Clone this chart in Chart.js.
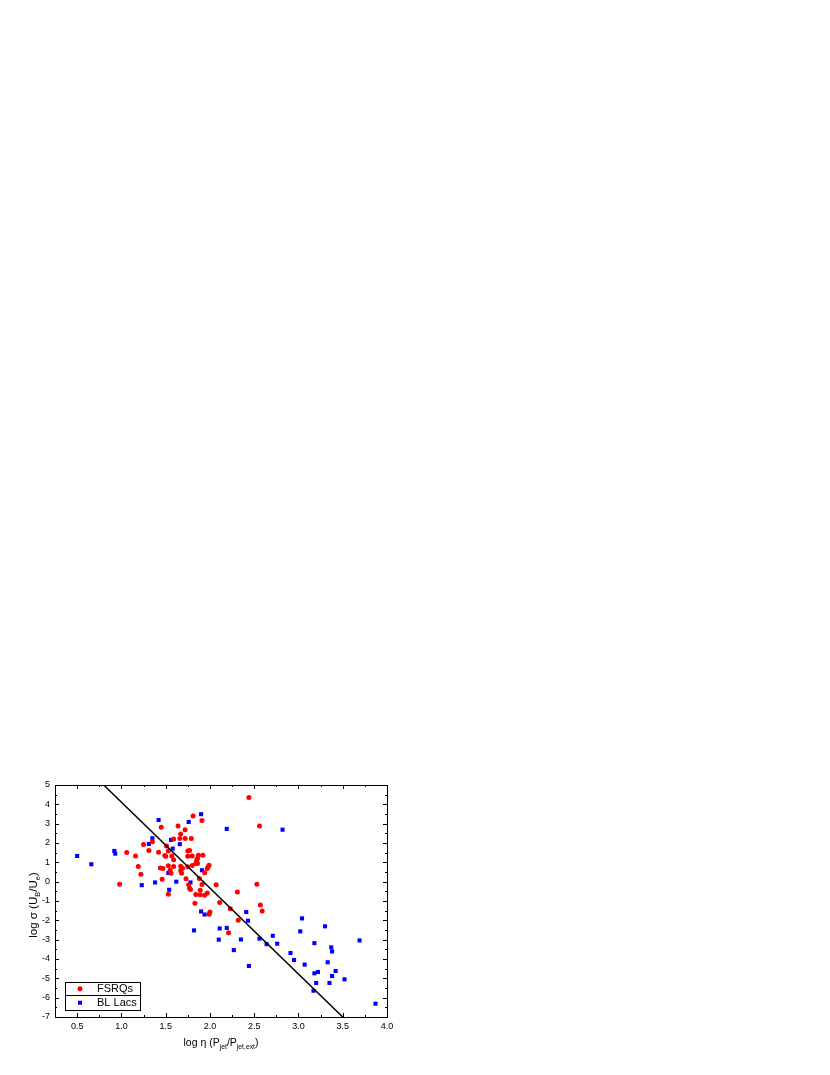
<!DOCTYPE html>
<html lang="en">
<head>
<meta charset="utf-8">
<title>log sigma vs log eta</title>
<script src="https://cdn.jsdelivr.net/npm/chart.js@4"></script>
<style>
  body { margin: 0; background: #fff; }
  canvas { display: block; }
</style>
</head>
<body>
<canvas id="sigmaChart" width="830" height="1075"></canvas>

<script>
// FSRQs (red circles)
var fsrqX = [2.44, 1.81, 1.91, 1.64, 2.56, 1.45, 1.72, 1.67, 1.59, 1.66, 1.72, 1.79, 1.25, 1.35, 1.51,
             1.06, 1.31, 1.42, 1.53, 1.49, 1.50, 1.57, 1.59, 1.16, 1.75, 1.77, 1.75, 1.80, 1.87, 1.92,
             1.86, 1.85, 1.84, 1.86, 1.19, 1.44, 1.47, 1.53, 1.59, 1.67, 1.69, 1.75, 1.80, 1.97, 1.99,
             1.98, 1.22, 1.55, 1.56, 1.67, 1.68, 1.46, 1.73, 1.88, 1.94, 0.98, 1.76, 1.91, 2.07, 2.53,
             1.53, 1.77, 1.78, 1.84, 1.89, 1.89, 1.94, 1.97, 2.31, 1.83, 2.11, 2.57, 2.59, 2.23, 2.00,
             1.99, 2.32, 2.21];
var fsrqY = [4.35, 3.40, 3.16, 2.88, 2.88, 2.81, 2.68, 2.47, 2.21, 2.23, 2.23, 2.23, 1.92, 2.06, 1.85,
             1.51, 1.61, 1.52, 1.59, 1.35, 1.32, 1.33, 1.14, 1.33, 1.59, 1.61, 1.32, 1.33, 1.37, 1.37,
             1.21, 1.11, 0.94, 0.94, 0.78, 0.71, 0.68, 0.82, 0.78, 0.80, 0.70, 0.77, 0.83, 0.68, 0.85,
             0.77, 0.39, 0.59, 0.44, 0.58, 0.43, 0.13, 0.15, 0.16, 0.46, -0.13, -0.16, -0.15, -0.16, -0.13,
             -0.65, -0.34, -0.40, -0.66, -0.44, -0.68, -0.70, -0.58, -0.54, -1.11, -1.08, -1.21, -1.52, -1.40, -1.57,
             -1.68, -1.99, -2.64];

// BL Lacs (blue squares)
var bllacX = [0.50, 0.66, 0.92, 0.93, 1.42, 1.35, 1.31, 1.76, 1.90, 1.56, 1.66, 1.58, 2.19, 2.82, 1.23,
              1.38, 1.62, 1.78, 1.91, 1.54, 1.53, 1.90, 1.94, 1.82, 2.11, 2.10, 2.19, 2.35, 2.27, 2.41,
              2.43, 2.44, 2.56, 2.64, 2.71, 2.76, 2.91, 2.95, 3.02, 3.04, 3.07, 3.18, 3.18, 3.22, 3.20,
              3.17, 3.30, 3.33, 3.35, 3.37, 3.38, 3.38, 3.42, 3.52, 3.69, 3.87];
var bllacY = [1.33, 0.90, 1.59, 1.45, 3.19, 2.25, 1.95, 3.09, 3.49, 2.16, 1.94, 1.71, 2.73, 2.69, -0.18,
              -0.04, 0.00, -0.04, 0.59, -0.42, 0.45, -1.54, -1.70, -2.52, -2.42, -3.00, -2.39, -2.99, -3.54, -1.57,
              -2.02, -4.36, -2.95, -3.23, -2.80, -3.21, -3.69, -4.05, -2.57, -1.90, -4.29, -3.18, -4.74, -4.67, -5.24,
              -5.64, -2.31, -4.17, -5.24, -3.40, -3.61, -4.88, -4.62, -5.05, -3.04, -6.31];

// fitted line end points
var fitX = [0.8, 3.5];
var fitY = [5, -7];

// tick values
var xMajor = [0.5, 1.0, 1.5, 2.0, 2.5, 3.0, 3.5, 4.0];
var yMajor = [-7, -6, -5, -4, -3, -2, -1, 0, 1, 2, 3, 4, 5];

function pairs(xs, ys) {
    var out = [];
    for (var i = 0; i < xs.length; i++) out.push({x: xs[i], y: ys[i]});
    return out;
}

var FONT = "'Liberation Sans', Arial, sans-serif";

// draws text runs with subscripts, centered on 0,0 of current transform
function drawRuns(ctx, runs, size) {
    var total = 0;
    runs.forEach(function(r) {
        ctx.font = (r.sub ? size * 0.65 : size) + "px " + FONT;
        r.w = ctx.measureText(r.t).width;
        total += r.w;
    });
    var x = -total / 2;
    runs.forEach(function(r) {
        ctx.font = (r.sub ? size * 0.65 : size) + "px " + FONT;
        ctx.fillText(r.t, x, r.sub ? size * 0.3 : 0);
        x += r.w;
    });
}

var framePlugin = {
    id: 'frame',
    afterDraw: function(chart) {
        var ctx = chart.ctx, a = chart.chartArea;
        var xs = chart.scales.x, ys = chart.scales.y;
        ctx.save();
        ctx.strokeStyle = '#000';
        ctx.lineWidth = 1;
        ctx.strokeRect(a.left + 0.5, a.top + 0.5, a.right - a.left, a.bottom - a.top);

        ctx.beginPath();
        // x ticks, major and minor, bottom and top, inward
        for (var v = 0.25; v <= 4.0001; v += 0.25) {
            var px = Math.round(xs.getPixelForValue(v)) + 0.5;
            var len = (Math.abs(v * 2 - Math.round(v * 2)) < 0.01) ? 4 : 2;
            ctx.moveTo(px, a.bottom); ctx.lineTo(px, a.bottom - len);
            ctx.moveTo(px, a.top); ctx.lineTo(px, a.top + len);
        }
        for (var w = -7; w <= 5.0001; w += 0.5) {
            var py = Math.round(ys.getPixelForValue(w)) + 0.5;
            var l2 = (Math.abs(w - Math.round(w)) < 0.01) ? 4 : 2;
            ctx.moveTo(a.left, py); ctx.lineTo(a.left + l2, py);
            ctx.moveTo(a.right, py); ctx.lineTo(a.right - l2, py);
        }
        ctx.stroke();

        // axis titles
        ctx.fillStyle = '#000';
        ctx.textBaseline = 'alphabetic';
        ctx.textAlign = 'left';
        ctx.save();
        ctx.translate((a.left + a.right) / 2, 1046);
        drawRuns(ctx, [{t: 'log \u03b7 (P'}, {t: 'jet', sub: true}, {t: '/P'}, {t: 'jet,ext', sub: true}, {t: ')'}], 10.5);
        ctx.restore();
        ctx.save();
        ctx.translate(37, 905);
        ctx.rotate(-Math.PI / 2);
        drawRuns(ctx, [{t: 'log \u03c3 (U'}, {t: 'B', sub: true}, {t: '/U'}, {t: 'e', sub: true}, {t: ')'}], 11.5);
        ctx.restore();

        // legend box
        var lx = 65, lt = 982, lm = 995.5, lb = 1010, lr = 140;
        ctx.fillStyle = '#fff';
        ctx.fillRect(lx, lt, lr - lx, lb - lt);
        ctx.strokeRect(lx + 0.5, lt + 0.5, lr - lx, lb - lt);
        ctx.beginPath();
        ctx.moveTo(lx, lm); ctx.lineTo(lr, lm);
        ctx.stroke();
        ctx.fillStyle = '#ff0000';
        ctx.beginPath();
        ctx.arc(80, (lt + lm) / 2, 2.5, 0, Math.PI * 2);
        ctx.fill();
        ctx.fillStyle = '#0000ff';
        ctx.fillRect(78, (lm + lb) / 2 - 2, 4, 4);
        ctx.fillStyle = '#000';
        ctx.font = '11px ' + FONT;
        ctx.textBaseline = 'middle';
        ctx.fillText('FSRQs', 97, (lt + lm) / 2 + 0.5);
        ctx.fillText('BL Lacs', 97, (lm + lb) / 2 + 0.5);
        ctx.restore();
    }
};

var ctxS = document.getElementById('sigmaChart').getContext('2d');
var sigmaChart = new Chart(ctxS, {
    type: 'scatter',
    data: {
        datasets: [
            {
                label: 'FSRQs',
                data: pairs(fsrqX, fsrqY),
                backgroundColor: '#ff0000',
                borderWidth: 0,
                pointStyle: 'circle',
                pointRadius: 2.5,
                order: 2
            },
            {
                label: 'BL Lacs',
                data: pairs(bllacX, bllacY),
                backgroundColor: '#0000ff',
                borderWidth: 0,
                pointStyle: 'rect',
                pointRadius: 2.9,
                order: 3
            },
            {
                type: 'line',
                label: 'fit',
                data: pairs(fitX, fitY),
                borderColor: '#000',
                borderWidth: 1.5,
                pointRadius: 0,
                fill: false,
                order: 1
            }
        ]
    },
    options: {
        responsive: false,
        devicePixelRatio: 1,
        animation: false,
        layout: { padding: { top: 785, right: 443, left: 0, bottom: 0 } },
        plugins: {
            legend: { display: false },
            tooltip: { enabled: false }
        },
        scales: {
            x: {
                type: 'linear',
                min: 0.25,
                max: 4.0,
                grid: { display: false, drawTicks: false },
                border: { display: false },
                afterBuildTicks: function(s) { s.ticks = xMajor.map(function(v) { return {value: v}; }); },
                afterFit: function(s) { s.height = 58; },
                ticks: {
                    padding: 4,
                    color: '#000',
                    font: { family: FONT, size: 9 },
                    maxRotation: 0,
                    callback: function(v) { return Number(v).toFixed(1); }
                }
            },
            y: {
                type: 'linear',
                min: -7,
                max: 5,
                grid: { display: false, drawTicks: false },
                border: { display: false },
                afterBuildTicks: function(s) { s.ticks = yMajor.map(function(v) { return {value: v}; }); },
                afterFit: function(s) { s.width = 55; },
                ticks: {
                    padding: 5,
                    color: '#000',
                    font: { family: FONT, size: 9 },
                    callback: function(v) { return String(v); }
                }
            }
        }
    },
    plugins: [framePlugin]
});
</script>
</body>
</html>
